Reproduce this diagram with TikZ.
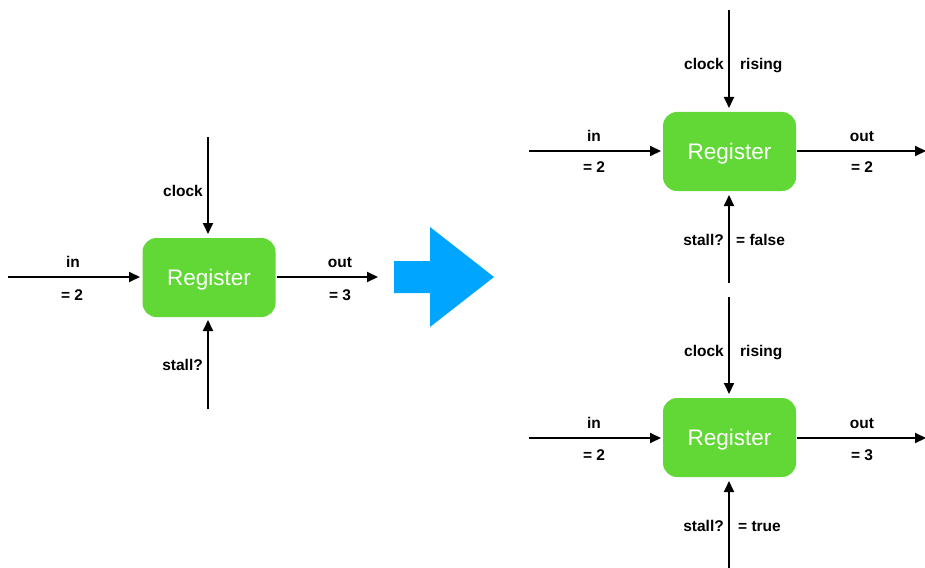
\documentclass[tikz,border=0pt]{standalone}
\usepackage{fontspec}
\setmainfont{Liberation Sans}
\usetikzlibrary{arrows.meta}
\definecolor{regGreen}{HTML}{61D836}
\definecolor{bigBlue}{HTML}{00A5FF}
\begin{document}
\begin{tikzpicture}[x=1pt,y=-1pt,
  reg/.style={fill=regGreen, draw=none, rounded corners=14pt,
    minimum width=133pt, minimum height=79pt, inner sep=0pt,
    text height=16pt, text depth=0pt,
    text=white, font=\fontsize{22.5}{24}\selectfont},
  wire/.style={line width=1.9pt, -{Triangle[length=11pt,width=10pt]}},
  lbl/.style={font=\bfseries\fontsize{15.5}{17}\selectfont, inner sep=0pt,
    text height=11pt, text depth=0pt},
  lblL/.style={lbl, anchor=east},
  lblR/.style={lbl, anchor=west}]
\useasboundingbox (0,0) rectangle (925,567);

% ---------- single register ----------
\node[reg] (r0) at (209,277.5) {Register};
\coordinate (c0) at (208,137);
\coordinate (i0) at (8,277);
\coordinate (o0) at (378,277);
\coordinate (s0) at (208,409);
\draw[wire] (c0) -- (208,234);
\draw[wire] (i0) -- (140,277);
\draw[wire] (277,277) -- (o0);
\draw[wire] (s0) -- (208,320);
\node[lblL] (c0l) at (203,191) {clock};
\node[lbl] (i0l) at (73,262) {in};
\node[lbl] (i0v) at (72,295) {= 2};
\node[lbl] (o0l) at (340,262) {out};
\node[lbl] (o0v) at (340,295) {= 3};
\node[lblL] (s0l) at (203,365) {stall?};

% ---------- big arrow ----------
\fill[bigBlue] (394,261) -- (430,261) -- (430,227) -- (494,277)
  -- (430,327) -- (430,293) -- (394,293) -- cycle;

% ---------- register, stall = false ----------
\node[reg] (r1) at (729.5,151.5) {Register};
\coordinate (c1) at (729,10);
\coordinate (i1) at (529,151);
\coordinate (o1) at (926,151);
\coordinate (s1) at (729,283);
\draw[wire] (c1) -- (729,108);
\draw[wire] (i1) -- (661,151);
\draw[wire] (797,151) -- (o1);
\draw[wire] (s1) -- (729,195);
\node[lblL] (c1l) at (724,64) {clock};
\node[lblR] (c1r) at (740,64) {rising};
\node[lbl] (i1l) at (594,136) {in};
\node[lbl] (i1v) at (594,167) {= 2};
\node[lbl] (o1l) at (862,136) {out};
\node[lbl] (o1v) at (862,167) {= 2};
\node[lblL] (s1l) at (724,240) {stall?};
\node[lblR] (s1r) at (736,240) {= false};

% ---------- register, stall = true ----------
\node[reg] (r2) at (729.5,437.5) {Register};
\coordinate (c2) at (729,297);
\coordinate (i2) at (529,438);
\coordinate (o2) at (926,438);
\coordinate (s2) at (729,568);
\draw[wire] (c2) -- (729,394);
\draw[wire] (i2) -- (661,438);
\draw[wire] (797,438) -- (o2);
\draw[wire] (s2) -- (729,481);
\node[lblL] (c2l) at (724,351) {clock};
\node[lblR] (c2r) at (740,351) {rising};
\node[lbl] (i2l) at (594,423) {in};
\node[lbl] (i2v) at (594,455) {= 2};
\node[lbl] (o2l) at (862,423) {out};
\node[lbl] (o2v) at (862,455) {= 3};
\node[lblL] (s2l) at (724,526) {stall?};
\node[lblR] (s2r) at (738,526) {= true};
\end{tikzpicture}
\end{document}
